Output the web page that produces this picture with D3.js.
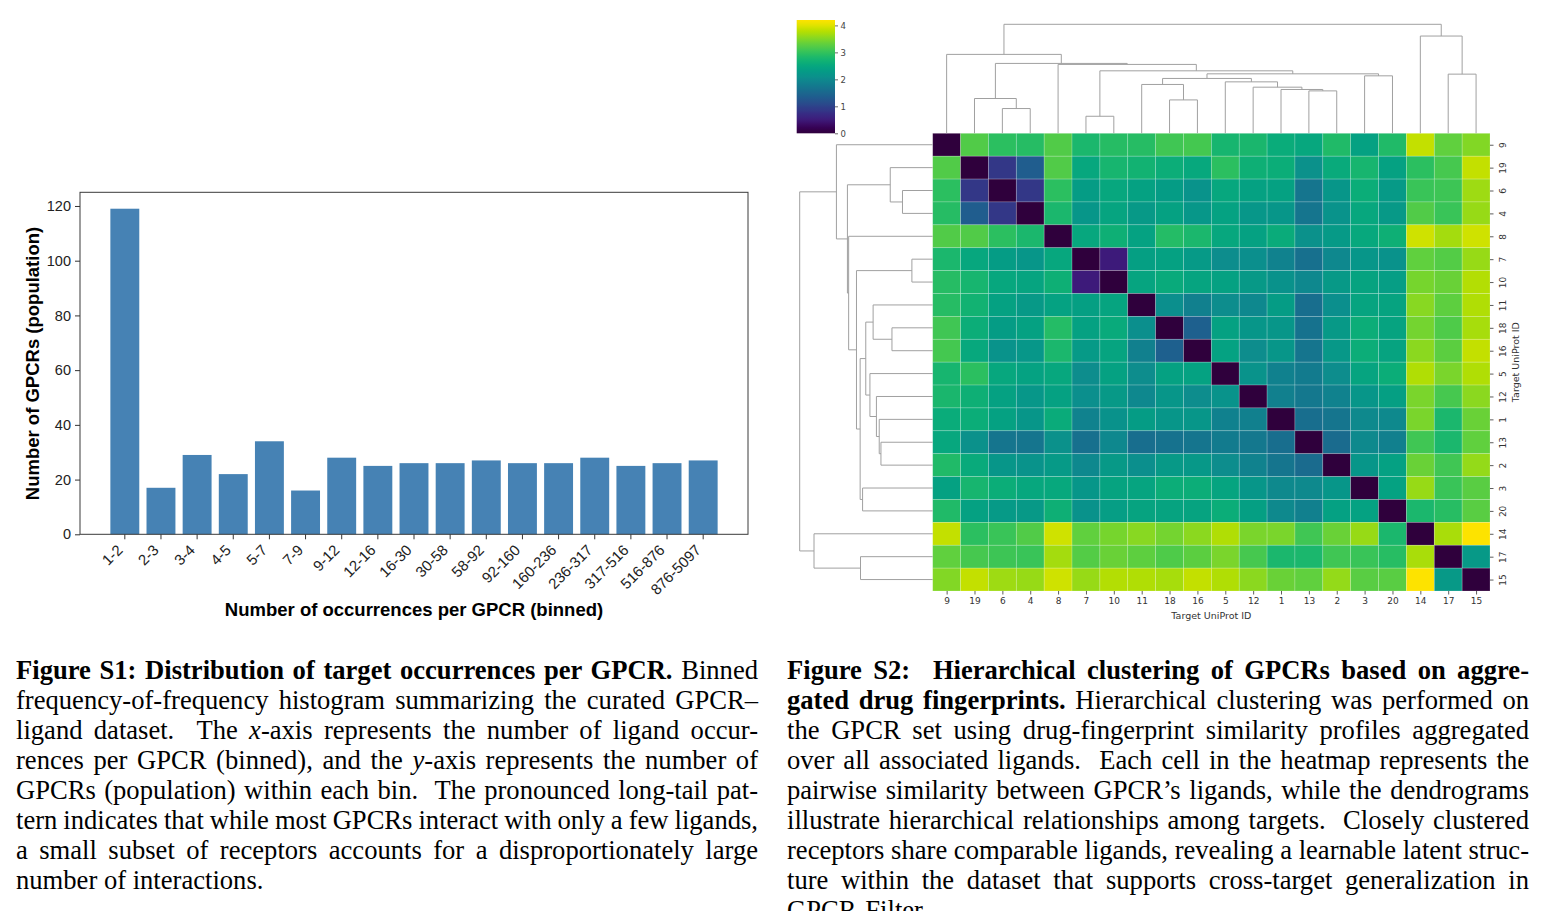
<!DOCTYPE html>
<html><head><meta charset="utf-8">
<script src="https://cdn.jsdelivr.net/npm/d3@7"></script>
<style>
body{margin:0;background:#fff;}
svg{display:block;}
</style></head>
<body>
<script>
// ---------- Figure S1 data ----------
const binLabels = ["1-2","2-3","3-4","4-5","5-7","7-9","9-12","12-16","16-30","30-58","58-92","92-160","160-236","236-317","317-516","516-876","876-5097"];
const binCounts = [119,17,29,22,34,16,28,25,26,26,27,26,26,28,25,26,27];
const yTickValues = [0,20,40,60,80,100,120];

// ---------- Figure S2 data ----------
const targetIds = ["9","19","6","4","8","7","10","11","18","16","5","12","1","13","2","3","20","14","17","15"];
const distRows = [
 [0,3.2,2.95,2.9,3.2,2.8,2.9,2.9,3.1,3.12,2.75,2.78,2.58,2.5,2.85,2.4,2.85,3.85,3.3,3.5],
 [3.2,0,0.85,1.35,3.2,2.5,2.75,2.7,2.62,2.52,2.95,2.65,2.6,2.1,2.55,2.75,2.4,2.95,3.15,3.85],
 [2.95,0.85,0,0.85,2.95,2.3,2.5,2.4,2.3,2.15,2.5,2.4,2.4,1.7,2.2,2.6,2.28,3.05,3.07,3.65],
 [2.9,1.35,0.85,0,2.8,2.2,2.45,2.25,2.4,2.22,2.42,2.22,2.2,1.7,2.15,2.5,2.25,3.2,3.05,3.62],
 [3.2,3.2,2.95,2.8,0,2.5,2.65,2.42,2.88,2.8,2.5,2.4,2.57,2.1,2.27,2.52,2.65,3.92,3.68,3.92],
 [2.8,2.5,2.3,2.2,2.5,0,0.5,2.35,2.4,2.28,2.05,2.07,1.9,1.63,1.97,2.2,2.13,3.3,3.23,3.62],
 [2.9,2.75,2.5,2.45,2.65,0.5,0,2.45,2.55,2.45,2.4,2.25,2.12,1.97,2.25,2.43,2.34,3.43,3.35,3.76],
 [2.9,2.7,2.4,2.25,2.42,2.35,2.45,0,2.07,1.85,2.05,1.98,2.3,1.6,2.08,2.46,2.44,3.53,3.29,3.75],
 [3.1,2.62,2.3,2.4,2.88,2.4,2.55,2.07,0,1.4,2.4,2.2,2.21,1.66,2.26,2.61,2.43,3.42,3.19,3.7],
 [3.12,2.52,2.15,2.22,2.8,2.28,2.45,1.85,1.4,0,2.42,2.05,2.2,1.69,2.24,2.62,2.43,3.56,3.27,3.84],
 [2.75,2.95,2.5,2.42,2.5,2.05,2.4,2.05,2.4,2.42,0,2.15,1.88,1.78,2.05,2.45,2.6,3.75,3.45,3.75],
 [2.78,2.65,2.4,2.22,2.4,2.07,2.25,1.98,2.2,2.05,2.15,0,1.85,1.75,1.9,2.2,2.35,3.45,3.15,3.55],
 [2.58,2.6,2.4,2.2,2.57,1.9,2.12,2.3,2.21,2.2,1.88,1.85,0,1.6,1.7,2.0,2.0,3.45,2.8,3.35],
 [2.5,2.1,1.7,1.7,2.1,1.63,1.97,1.6,1.66,1.69,1.78,1.75,1.6,0,1.55,2.0,1.85,3.1,2.8,3.3],
 [2.85,2.55,2.2,2.15,2.27,1.97,2.25,2.08,2.26,2.24,2.05,1.9,1.7,1.55,0,2.2,2.38,3.35,3.1,3.6],
 [2.4,2.75,2.6,2.5,2.52,2.2,2.43,2.46,2.61,2.62,2.45,2.2,2.0,2.0,2.2,0,2.42,3.62,3.05,3.25],
 [2.85,2.4,2.28,2.25,2.65,2.13,2.34,2.44,2.43,2.43,2.6,2.35,2.0,1.85,2.38,2.42,0,2.8,2.92,3.25],
 [3.85,2.95,3.05,3.2,3.92,3.3,3.43,3.53,3.42,3.56,3.75,3.45,3.45,3.1,3.35,3.62,2.8,0,3.72,4.2],
 [3.3,3.15,3.07,3.05,3.68,3.23,3.35,3.29,3.19,3.27,3.45,3.15,2.8,2.8,3.1,3.05,2.92,3.72,0,2.25],
 [3.5,3.85,3.65,3.62,3.92,3.62,3.76,3.75,3.7,3.84,3.75,3.55,3.35,3.3,3.6,3.25,3.25,4.2,2.25,0]
];
// linkage: [childA, childB, height]; ids 0-19 = leaves in display order, 20+ = merges in order
const linkage = [
 [2,3,24.7],[1,20,34.7],[5,6,17],[8,9,33.3],[7,23,48.7],[13,14,42.3],[12,25,43.7],
 [11,26,46],[10,27,51.3],[24,28,54.7],[15,16,57.3],[29,30,59.3],[22,31,62.3],
 [4,32,68.7],[21,33,69.7],[0,34,78.7],[18,19,59],[17,36,97],[35,37,108.7]
];
const cbarTicks = [0,1,2,3,4];
const colorMax = 4.2;

// ---------- Captions ----------
const capS1 = [
 [["Figure S1: Distribution of target occurrences per GPCR.","b"],[" Binned",""]],
 [["frequency-of-frequency histogram summarizing the curated GPCR–",""]],
 [["ligand dataset.  The ",""],["x","i"],["-axis represents the number of ligand occur-",""]],
 [["rences per GPCR (binned), and the ",""],["y","i"],["-axis represents the number of",""]],
 [["GPCRs (population) within each bin.  The pronounced long-tail pat-",""]],
 [["tern indicates that while most GPCRs interact with only a few ligands,",""]],
 [["a small subset of receptors accounts for a disproportionately large",""]],
 [["number of interactions.",""]]
];
const capS2 = [
 [["Figure S2:  Hierarchical clustering of GPCRs based on aggre-","b"]],
 [["gated drug fingerprints.","b"],[" Hierarchical clustering was performed on",""]],
 [["the GPCR set using drug-fingerprint similarity profiles aggregated",""]],
 [["over all associated ligands.  Each cell in the heatmap represents the",""]],
 [["pairwise similarity between GPCR’s ligands, while the dendrograms",""]],
 [["illustrate hierarchical relationships among targets.  Closely clustered",""]],
 [["receptors share comparable ligands, revealing a learnable latent struc-",""]],
 [["ture within the dataset that supports cross-target generalization in",""]],
 [["GPCR-Filter.",""]]
];

const svg = d3.select("body").append("svg").attr("width",1541).attr("height",911);
const sans = "'Liberation Sans', Arial, Helvetica, sans-serif";
const dv = "'DejaVu Sans', sans-serif";

// ================= Figure S1: bar chart =================
const bx = d3.scaleBand().domain(binLabels).range([80,748]).paddingInner(0.2).paddingOuter(0.84);
const by = d3.scaleLinear().domain([0,125]).range([534.3,192.3]);
const g1 = svg.append("g");
g1.selectAll("rect.bar").data(binCounts).join("rect").attr("class","bar")
  .attr("x",(d,i)=>bx(binLabels[i])).attr("width",bx.bandwidth())
  .attr("y",d=>by(d)).attr("height",d=>by(0)-by(d)).attr("fill","#4682b4");
g1.append("rect").attr("x",80).attr("y",by(125)).attr("width",668).attr("height",by(0)-by(125))
  .attr("fill","none").attr("stroke","#3a3a3a").attr("stroke-width",1);
const yax = g1.append("g").attr("transform","translate(80,0)")
  .call(d3.axisLeft(by).tickValues(yTickValues).tickSize(5).tickPadding(4));
yax.select(".domain").remove();
yax.selectAll("text").style("font-family",sans).style("font-size","14.5px").attr("fill","#222");
yax.selectAll("line").attr("stroke","#333");
const xax = g1.append("g").attr("transform",`translate(0,${by(0)})`)
  .call(d3.axisBottom(bx).tickSize(5).tickPadding(3));
xax.select(".domain").remove();
xax.selectAll("line").attr("stroke","#333");
xax.selectAll("text").style("font-family",sans).style("font-size","15px").attr("fill","#222")
  .attr("text-anchor","end").attr("x",0).attr("y",0).attr("dy","0.35em")
  .attr("transform","translate(-5,13) rotate(-45)");
g1.append("text").attr("transform","translate(33,363.5) rotate(-90)").attr("text-anchor","middle")
  .attr("dy","0.35em").style("font-family",sans).style("font-weight","bold").style("font-size","18.5px")
  .text("Number of GPCRs (population)");
g1.append("text").attr("x",414).attr("y",610).attr("text-anchor","middle").attr("dy","0.35em")
  .style("font-family",sans).style("font-weight","bold").style("font-size","18.5px")
  .text("Number of occurrences per GPCR (binned)");

// ================= Figure S2: clustermap =================
const HX0=932.7, HX1=1490, HY0=133.3, HY1=591;
const hx = d3.scaleBand().domain(d3.range(20)).range([HX0,HX1]);
const hy = d3.scaleBand().domain(d3.range(20)).range([HY0,HY1]);
// viridis with a small chroma boost and deeper low end (as in the printed figure)
function vivid(t){
  const c = d3.rgb(d3.interpolateViridis(t));
  const m = Math.max(c.r,c.g,c.b), k = 1.2;
  const dark = 0.72 + 0.28*Math.min(1, t/0.12);
  const f = v => Math.max(0, m-(m-v)*k)*dark;
  return d3.rgb(f(c.r),f(c.g),f(c.b)).formatHex();
}
const color = d3.scaleSequential(vivid).domain([0,colorMax]);
const g2 = svg.append("g");
const cells = [];
distRows.forEach((row,i)=>row.forEach((v,j)=>cells.push({i,j,v})));
g2.selectAll("rect.cell").data(cells).join("rect").attr("class","cell")
  .attr("x",d=>hx(d.j)).attr("y",d=>hy(d.i)).attr("width",hx.bandwidth()).attr("height",hy.bandwidth())
  .attr("fill",d=>color(d.v)).attr("stroke","rgba(255,255,255,0.28)").attr("stroke-width",0.7);

const labelScale = d3.scalePoint().domain(d3.range(20)).range([HX0+hx.bandwidth()/2, HX1-hx.bandwidth()/2]);
const labelScaleY = d3.scalePoint().domain(d3.range(20)).range([HY0+hy.bandwidth()/2, HY1-hy.bandwidth()/2]);
const bax = g2.append("g").attr("transform",`translate(0,${HY1})`)
  .call(d3.axisBottom(labelScale).tickSize(3.5).tickPadding(3).tickFormat(i=>targetIds[i]));
bax.select(".domain").remove();
bax.selectAll("line").attr("stroke","#333").attr("stroke-width",0.8);
bax.selectAll("text").style("font-family",dv).style("font-size","9px").attr("fill","#333");
const rax = g2.append("g").attr("transform",`translate(${HX1},0)`)
  .call(d3.axisRight(labelScaleY).tickSize(3.5).tickFormat(i=>targetIds[i]));
rax.select(".domain").remove();
rax.selectAll("line").attr("stroke","#333").attr("stroke-width",0.8);
rax.selectAll("text").style("font-family",dv).style("font-size","9px").attr("fill","#333")
  .attr("x",0).attr("y",0).attr("dy","0.35em").attr("text-anchor","middle")
  .attr("transform","translate(13,0) rotate(-90)");
g2.append("text").attr("x",(HX0+HX1)/2).attr("y",616).attr("text-anchor","middle").attr("dy","0.35em")
  .style("font-family",dv).style("font-size","9.5px").attr("fill","#333").text("Target UniProt ID");
g2.append("text").attr("transform",`translate(1515.5,${(HY0+HY1)/2}) rotate(-90)`).attr("text-anchor","middle")
  .attr("dy","0.35em").style("font-family",dv).style("font-size","9.5px").attr("fill","#333").text("Target UniProt ID");

// dendrograms
const nodes = targetIds.map((d,i)=>({pos:i,h:0}));
linkage.forEach(([a,b,h])=>nodes.push({a,b,h,pos:(nodes[a].pos+nodes[b].pos)/2}));
const merges = nodes.slice(20);
const tX = d3.scaleLinear().domain([-0.5,19.5]).range([HX0,HX1]);
const tH = d3.scaleLinear().domain([0,108.7]).range([HY0,24.3]);
const lY = d3.scaleLinear().domain([-0.5,19.5]).range([HY0,HY1]);
const lH = d3.scaleLinear().domain([0,108.7]).range([HX0,799.7]);
const dstroke = "#a0a0a0";
g2.selectAll("path.dtop").data(merges).join("path").attr("class","dtop")
  .attr("d",d=>{const A=nodes[d.a],B=nodes[d.b];
    return `M${tX(A.pos)},${tH(A.h)}V${tH(d.h)}H${tX(B.pos)}V${tH(B.h)}`;})
  .attr("fill","none").attr("stroke",dstroke).attr("stroke-width",1);
g2.selectAll("path.dleft").data(merges).join("path").attr("class","dleft")
  .attr("d",d=>{const A=nodes[d.a],B=nodes[d.b];
    return `M${lH(A.h)},${lY(A.pos)}H${lH(d.h)}V${lY(B.pos)}H${lH(B.h)}`;})
  .attr("fill","none").attr("stroke",dstroke).attr("stroke-width",1);

// colorbar
const defs = svg.append("defs");
const grad = defs.append("linearGradient").attr("id","vir").attr("x1",0).attr("y1",1).attr("x2",0).attr("y2",0);
d3.range(0,1.0001,0.025).forEach(t=>grad.append("stop").attr("offset",t).attr("stop-color",vivid(t)));
const cy = d3.scaleLinear().domain([0,colorMax]).range([133.3,20]);
g2.append("rect").attr("x",796.7).attr("y",cy(colorMax)).attr("width",38.3).attr("height",cy(0)-cy(colorMax)).attr("fill","url(#vir)");
const cax = g2.append("g").attr("transform","translate(835,0)")
  .call(d3.axisRight(cy).tickValues(cbarTicks).tickSize(3).tickPadding(2.5).tickFormat(d3.format("d")));
cax.select(".domain").remove();
cax.selectAll("line").attr("stroke","#444").attr("stroke-width",0.8);
cax.selectAll("text").style("font-family",dv).style("font-size","8.5px").attr("fill","#444");

// ================= Captions =================
function drawCaption(lines,x0,x1,yBase){
  const n = lines.length;
  lines.forEach((segs,k)=>{
    const t = svg.append("text").attr("x",x0).attr("y",yBase+k*30).attr("xml:space","preserve")
      .style("white-space","pre").style("font-family","'Liberation Serif','Times New Roman',serif")
      .style("font-size","26.6px").attr("fill","#000");
    let full="";
    segs.forEach(([s,st])=>{
      const ts=t.append("tspan").text(s); full+=s;
      if(st==="b") ts.style("font-weight","bold");
      if(st==="i") ts.style("font-style","italic");
    });
    if(k!==n-1){
      const w=t.node().getComputedTextLength();
      const spaces=(full.match(/ /g)||[]).length;
      if(spaces>0) t.attr("word-spacing",(x1-x0-w)/spaces);
    }
  });
}
drawCaption(capS1,16,758,679);
drawCaption(capS2,787,1529,679);
</script>
</body></html>
